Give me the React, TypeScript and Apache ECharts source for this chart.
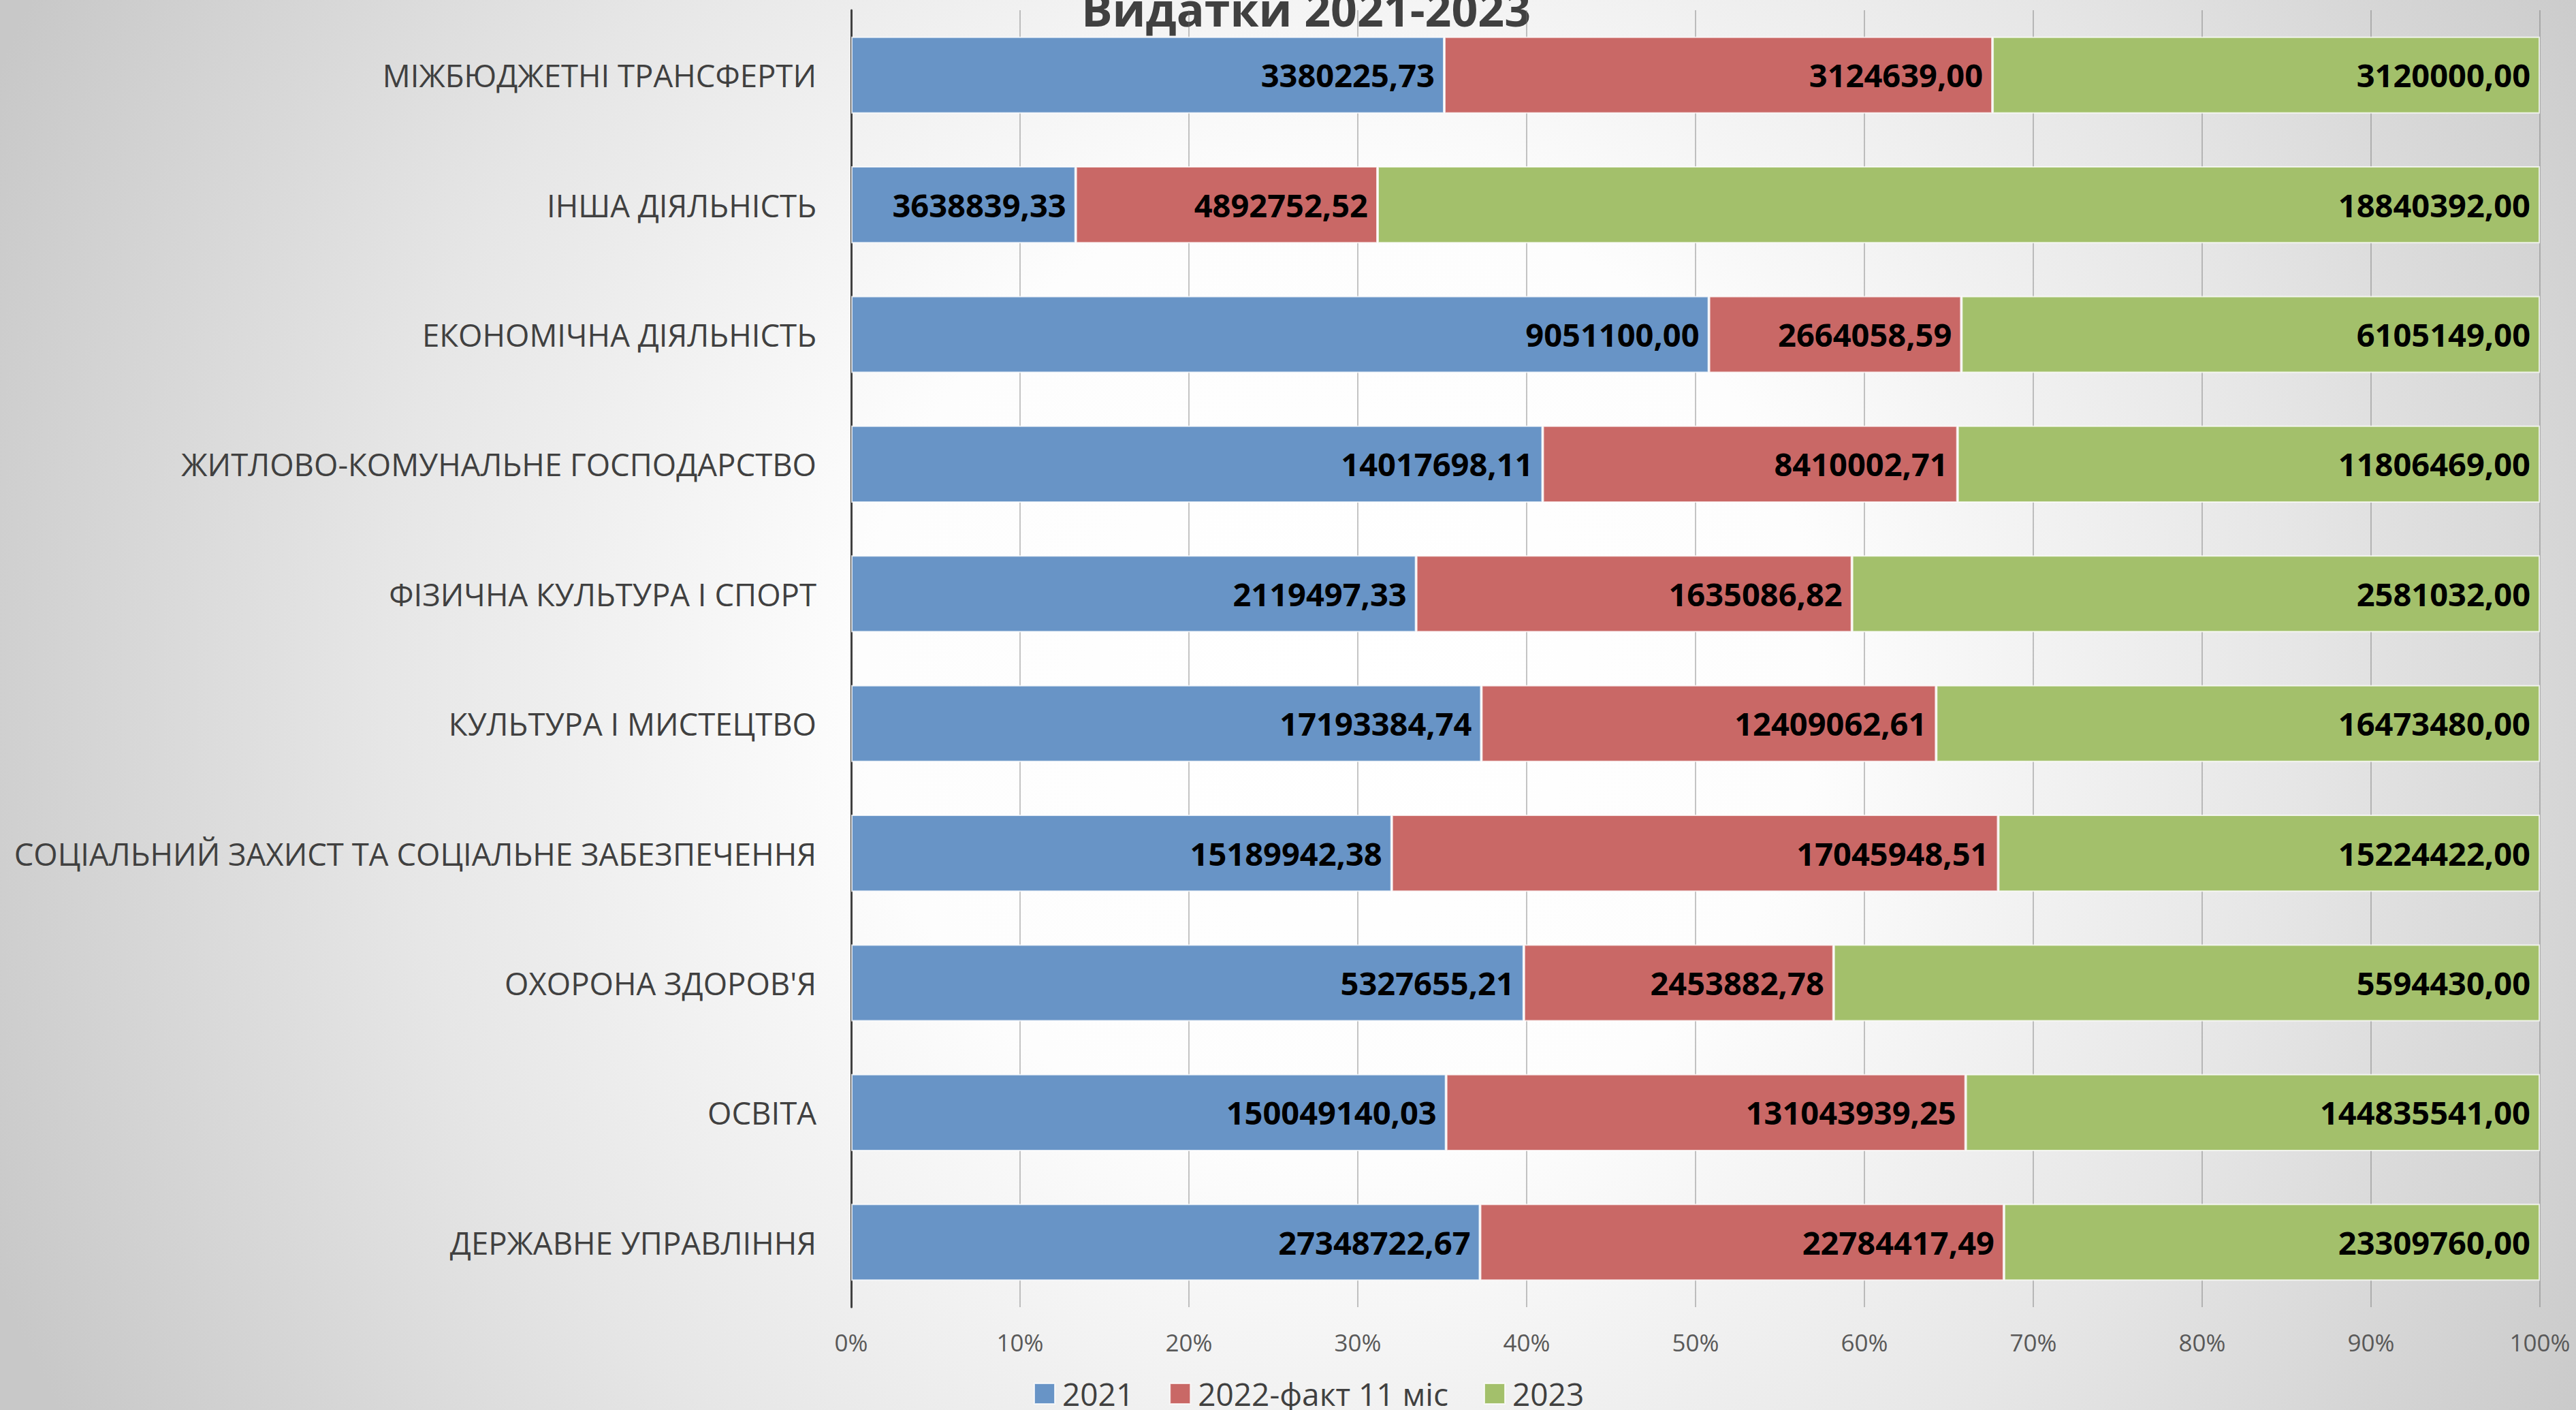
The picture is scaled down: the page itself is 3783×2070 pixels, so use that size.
import React, { useEffect, useRef } from "react";
import * as echarts from "echarts";

const categories = [
  "ДЕРЖАВНЕ УПРАВЛІННЯ",
  "ОСВІТА",
  "ОХОРОНА ЗДОРОВ'Я",
  "СОЦІАЛЬНИЙ ЗАХИСТ ТА СОЦІАЛЬНЕ ЗАБЕЗПЕЧЕННЯ",
  "КУЛЬТУРА І МИСТЕЦТВО",
  "ФІЗИЧНА КУЛЬТУРА І СПОРТ",
  "ЖИТЛОВО-КОМУНАЛЬНЕ ГОСПОДАРСТВО",
  "ЕКОНОМІЧНА ДІЯЛЬНІСТЬ",
  "ІНША ДІЯЛЬНІСТЬ",
  "МІЖБЮДЖЕТНІ ТРАНСФЕРТИ",
];

const seriesNames = ["2021", "2022-факт 11 міс", "2023"];

const values2021 = [
  27348722.67, 150049140.03, 5327655.21, 15189942.38, 17193384.74,
  2119497.33, 14017698.11, 9051100.0, 3638839.33, 3380225.73,
];
const values2022 = [
  22784417.49, 131043939.25, 2453882.78, 17045948.51, 12409062.61,
  1635086.82, 8410002.71, 2664058.59, 4892752.52, 3124639.0,
];
const values2023 = [
  23309760.0, 144835541.0, 5594430.0, 15224422.0, 16473480.0,
  2581032.0, 11806469.0, 6105149.0, 18840392.0, 3120000.0,
];

const colors = ["#6894c6", "#c96866", "#a3c06b"];
const FONT = "'Open Sans', 'Noto Sans', sans-serif";

export default function App() {
  const ref = useRef<HTMLDivElement>(null);

  useEffect(() => {
    document.body.style.margin = "0";
    if (!ref.current) return;
    const chart = echarts.init(ref.current, undefined, { renderer: "svg" });
    const all = [values2021, values2022, values2023];
    const totals = categories.map((_, i) => all.reduce((s, arr) => s + arr[i], 0));

    const series = all.map((arr, si) => ({
      name: seriesNames[si],
      type: "bar",
      stack: "total",
      barCategoryGap: "40.6%",
      itemStyle: {
        color: colors[si],
        borderColor: "rgba(255,255,255,0.75)",
        borderWidth: 2,
      },
      label: {
        show: true,
        position: "insideRight",
        distance: 14,
        fontFamily: FONT,
        fontWeight: "bold",
        fontSize: 47,
        color: "#000000",
        formatter: (p: any) => arr[p.dataIndex].toFixed(2).replace(".", ","),
      },
      data: arr.map((v, i) => (v / totals[i]) * 100),
    }));

    chart.setOption({
      animation: false,
      textStyle: { fontFamily: FONT },
      graphic: [
        {
          type: "text",
          x: 1918,
          y: 12,
          style: {
            text: "Видатки 2021-2023",
            font: `bold 68px ${FONT}`,
            fill: "#404040",
            align: "center",
            verticalAlign: "middle",
          },
        },
      ],
      legend: {
        left: 1513,
        top: 2018,
        itemWidth: 30,
        itemHeight: 30,
        itemGap: 52,
        icon: "rect",
        textStyle: {
          fontFamily: FONT,
          fontSize: 46,
          color: "#404040",
          padding: [0, 0, 0, 6],
        },
        data: seriesNames,
      },
      grid: { left: 1250, right: 53, top: 15, bottom: 151, containLabel: false },
      xAxis: {
        type: "value",
        min: 0,
        max: 100,
        interval: 10,
        axisLine: { show: false },
        axisTick: { show: false },
        splitLine: { show: true, lineStyle: { color: "rgba(110,110,110,0.4)", width: 2 } },
        axisLabel: {
          formatter: "{value}%",
          fontFamily: FONT,
          fontSize: 35,
          color: "#595959",
          margin: 34,
        },
      },
      yAxis: {
        type: "category",
        data: categories,
        axisLine: { show: true, lineStyle: { color: "#404040", width: 3 } },
        axisTick: { show: false },
        axisLabel: {
          fontFamily: FONT,
          fontSize: 45.5,
          color: "#404040",
          margin: 51,
        },
      },
      series,
    });
    return () => chart.dispose();
  }, []);

  return (
    <div
      ref={ref}
      style={{
        width: 3783,
        height: 2070,
        background:
          "radial-gradient(ellipse 62% 115% at 52% 48%, #ffffff 0%, #fdfdfd 30%, #e6e6e6 60%, #c8c8c8 92%)",
      }}
    />
  );
}
